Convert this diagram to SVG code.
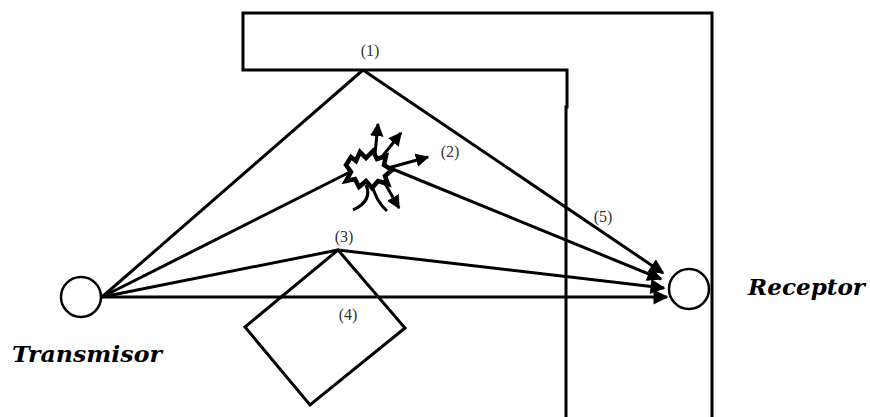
<svg xmlns="http://www.w3.org/2000/svg" width="870" height="417" viewBox="0 0 870 417">
<style>
.ray{stroke:#000;stroke-width:3;fill:none}
.arr{marker-end:url(#ah)}
.wall{stroke:#000;stroke-width:3;fill:none}
.node{stroke:#000;stroke-width:2.5;fill:#fff}
.lbl{font-family:"Liberation Serif","Times New Roman",serif;font-size:16px;fill:#333;text-anchor:middle}
.big{font-family:"DejaVu Serif","Liberation Serif",serif;font-size:22px;font-weight:bold;font-style:italic;fill:#000}
</style>
<defs>
<marker id="ah" viewBox="0 0 10 10" refX="9" refY="5" markerWidth="5.5" markerHeight="5" orient="auto" markerUnits="strokeWidth">
<path d="M0,0 L10,5 L0,10 z" fill="#000"/>
</marker>
<marker id="sh" viewBox="0 0 10 10" refX="9" refY="5" markerWidth="4.5" markerHeight="4.5" orient="auto" markerUnits="strokeWidth">
<path d="M0,0 L10,5 L0,10 z" fill="#000"/>
</marker>
</defs>
<rect width="870" height="417" fill="#fff"/>
<g id="wall">
<path class="wall" d="M712,417 L712,13 L243,13 L243,70 L567,70 L567,107 L566,107 L566,417"/>
</g>
<g id="obstacle">
<path class="wall" d="M338,250 L405,328 L310,405 L245,327 Z"/>
</g>
<g id="scatterer">
<path d="M346,165 L351,157 L356,161 L360,152 L366,158 L373,151 L377,159 L386,156 L384,165 L392,170 L385,176 L388,184 L378,181 L372,188 L366,181 L359,187 L355,179 L346,181 L351,172 Z" fill="#fff" stroke="#000" stroke-width="4.5"/>
<g stroke="#000" stroke-width="3" fill="none">
<line x1="375" y1="154" x2="378" y2="124" marker-end="url(#sh)"/>
<line x1="381" y1="158" x2="401" y2="133" marker-end="url(#sh)"/>
<line x1="388" y1="168" x2="428" y2="157" marker-end="url(#sh)"/>
<line x1="383" y1="180" x2="399" y2="208" marker-end="url(#sh)"/>
<path d="M366,185 C370,194 368,203 353,210"/>
<path d="M372,186 C376,196 378,203 387,211"/>
</g>
</g>
<g id="connectors">
<path class="ray" d="M102,297 L363,70"/>
<path class="ray arr" d="M363,70 L663,273"/>
<path class="ray" d="M102,297 L350,172"/>
<path class="ray arr" d="M390,168 L661,279"/>
<path class="ray" d="M102,297 L338,250"/>
<path class="ray arr" d="M338,250 L664,288"/>
<path class="ray arr" d="M102,297 L667,297"/>
</g>
<g id="transmisor">
<circle class="node" cx="81" cy="297" r="20"/>
<text class="big" x="12" y="362" textLength="150" lengthAdjust="spacingAndGlyphs">Transmisor</text>
</g>
<g id="receptor">
<circle class="node" cx="689" cy="289" r="20"/>
<text class="big" x="748" y="295" textLength="117" lengthAdjust="spacingAndGlyphs">Receptor</text>
</g>
<g id="labels">
<text class="lbl" x="370" y="56">(1)</text>
<text class="lbl" x="450" y="157">(2)</text>
<text class="lbl" x="344" y="242">(3)</text>
<text class="lbl" x="348" y="320">(4)</text>
<text class="lbl" x="603" y="222">(5)</text>
</g>
</svg>
